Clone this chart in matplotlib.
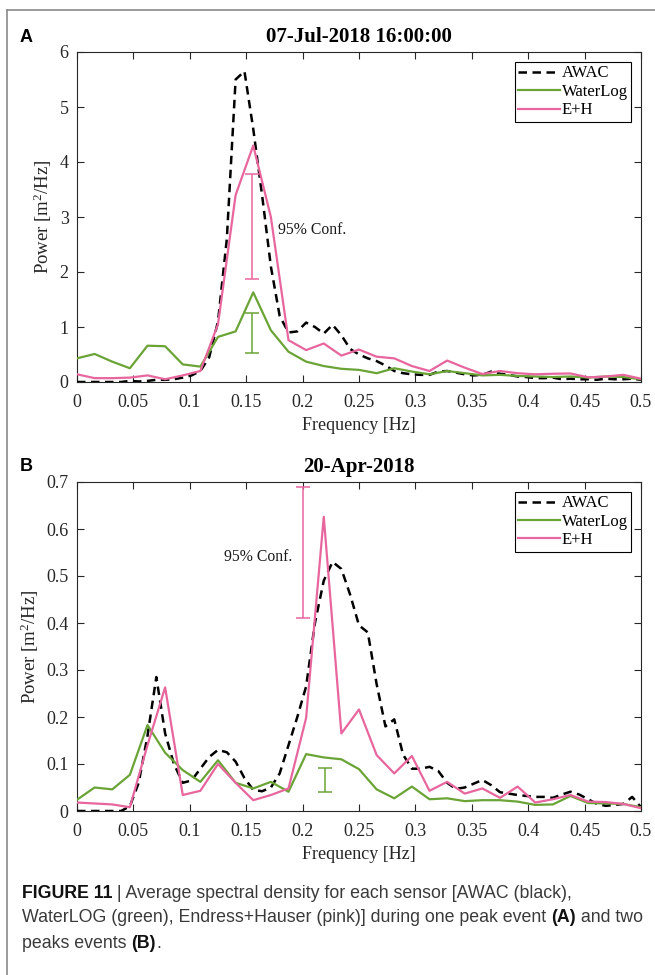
import numpy as np
import matplotlib
matplotlib.use('Agg')
import matplotlib.pyplot as plt
from matplotlib.lines import Line2D

# Spectra. E+H and WaterLog share a 1/64 Hz grid,
# the AWAC spectrum has a finer 1/128 Hz grid.
freq_bins = np.linspace(0, 0.5, 33)
freq_awac = np.linspace(0, 0.5, 65)

# Panel A: 07-Jul-2018 16:00:00 (one peak)
awac_a = [0.0, 0.0, 0.0, 0.0, 0.0, 0.0, 0.02, 0.01, 0.02, 0.04, 0.04, 0.05, 0.08, 0.12, 0.2, 0.45,
          1.1, 2.6, 5.5, 5.65, 4.6, 3.4, 2.1, 1.2, 0.9, 0.92, 1.08, 1.0, 0.88, 1.04, 0.85, 0.6,
          0.5, 0.43, 0.38, 0.3, 0.2, 0.16, 0.14, 0.13, 0.13, 0.19, 0.2, 0.17, 0.14, 0.12, 0.13, 0.19,
          0.15, 0.13, 0.1, 0.09, 0.07, 0.07, 0.08, 0.05, 0.06, 0.05, 0.05, 0.04, 0.06, 0.05, 0.05, 0.06, 0.04]
waterlog_a = [0.43, 0.51, 0.37, 0.25, 0.66, 0.65, 0.32, 0.28, 0.82, 0.92,
              1.63, 0.94, 0.55, 0.37, 0.29, 0.24, 0.22, 0.16, 0.25, 0.19,
              0.14, 0.2, 0.16, 0.12, 0.13, 0.11, 0.1, 0.09, 0.1, 0.08,
              0.1, 0.09, 0.05]
eh_a = [0.14, 0.07, 0.07, 0.08, 0.12, 0.05, 0.12, 0.2, 1.05, 3.4,
        4.3, 3.0, 0.76, 0.58, 0.7, 0.48, 0.59, 0.46, 0.43, 0.29,
        0.2, 0.39, 0.26, 0.145, 0.2, 0.16, 0.14, 0.15, 0.155, 0.085,
        0.1, 0.13, 0.06]

# Panel B: 20-Apr-2018 (two peaks)
awac_b = [0.0, 0.0, 0.0, 0.0, 0.0, 0.0, 0.01, 0.06, 0.16, 0.285, 0.165, 0.1, 0.06, 0.065, 0.09, 0.115,
          0.13, 0.125, 0.105, 0.07, 0.045, 0.042, 0.05, 0.08, 0.14, 0.2, 0.265, 0.4, 0.49, 0.53, 0.515, 0.46,
          0.395, 0.38, 0.27, 0.18, 0.195, 0.12, 0.09, 0.09, 0.094, 0.085, 0.06, 0.047, 0.05, 0.058, 0.066, 0.055,
          0.04, 0.037, 0.034, 0.032, 0.03, 0.03, 0.028, 0.035, 0.041, 0.035, 0.025, 0.015, 0.011, 0.013, 0.015, 0.03, 0.008]
waterlog_b = [0.024, 0.05, 0.046, 0.077, 0.183, 0.124, 0.087, 0.062, 0.108, 0.06,
              0.048, 0.062, 0.041, 0.121, 0.114, 0.11, 0.089, 0.046, 0.027, 0.052,
              0.025, 0.027, 0.021, 0.023, 0.023, 0.02, 0.013, 0.014, 0.032, 0.017,
              0.016, 0.015, 0.008]
eh_b = [0.018, 0.016, 0.014, 0.008, 0.14, 0.263, 0.034, 0.043, 0.1, 0.06,
        0.023, 0.034, 0.048, 0.198, 0.626, 0.165, 0.216, 0.119, 0.08, 0.117,
        0.043, 0.062, 0.037, 0.048, 0.028, 0.052, 0.018, 0.025, 0.034, 0.02,
        0.019, 0.015, 0.006]

# 95% confidence bars (E+H first, WaterLog second)
conf_freq_a = [0.155, 0.155]
conf_lo_a = [1.88, 0.53]
conf_hi_a = [3.79, 1.26]
conf_freq_b = [0.2, 0.2195]
conf_lo_b = [0.41, 0.041]
conf_hi_b = [0.689, 0.092]

titles = ['07-Jul-2018 16:00:00', '20-Apr-2018']
xticks = [0, 0.05, 0.1, 0.15, 0.2, 0.25, 0.3, 0.35, 0.4, 0.45, 0.5]
yticks_a = [0, 1, 2, 3, 4, 5, 6]
yticks_b = [0, 0.1, 0.2, 0.3, 0.4, 0.5, 0.6, 0.7]

BLACK = '#000000'
GREEN = '#6aa436'
PINK = '#e8669e'
AXCOL = '#262626'

plt.rcParams['font.family'] = ['Liberation Serif', 'DejaVu Serif']
plt.rcParams['mathtext.fontset'] = 'custom'
plt.rcParams['mathtext.rm'] = 'Liberation Serif'
plt.rcParams['mathtext.it'] = 'Liberation Serif:italic'

W, H = 655, 975
fig = plt.figure(figsize=(W / 100, H / 100), dpi=100)

ax_a = fig.add_axes([77 / W, 1 - 382 / H, 564 / W, 330 / H])
ax_b = fig.add_axes([77 / W, 1 - 811 / H, 564 / W, 329 / H])

panels = [
    (ax_a, awac_a, waterlog_a, eh_a, yticks_a, conf_freq_a, conf_lo_a, conf_hi_a),
    (ax_b, awac_b, waterlog_b, eh_b, yticks_b, conf_freq_b, conf_lo_b, conf_hi_b),
]

for i, (ax, awac, wl, eh, yt, cf, lo, hi) in enumerate(panels):
    ax.plot(freq_awac, awac, color=BLACK, lw=1.8, ls=(0, (3.4, 2.2)), label='AWAC', zorder=3)
    ax.plot(freq_bins, wl, color=GREEN, lw=1.6, label='WaterLog', zorder=4)
    ax.plot(freq_bins, eh, color=PINK, lw=1.6, label='E+H', zorder=5)

    for f, l, h, c in zip(cf, lo, hi, [PINK, GREEN]):
        mid = (l + h) / 2
        ax.errorbar([f], [mid], yerr=[[mid - l], [h - mid]], fmt='none',
                    ecolor=c, elinewidth=1.1, capsize=5, capthick=1.1, zorder=6)

    ax.set_xlim(0, 0.5)
    ax.set_ylim(yt[0], yt[-1])
    ax.set_xticks(xticks)
    ax.set_xticklabels(['%g' % v for v in xticks])
    ax.set_yticks(yt)
    ax.set_yticklabels(['%g' % v for v in yt])
    ax.tick_params(direction='in', top=True, right=True, length=5, width=0.8,
                   labelsize=13, colors=AXCOL)
    ax.tick_params(axis='x', pad=8.5)
    ax.tick_params(axis='y', pad=6)
    for s in ax.spines.values():
        s.set_color(AXCOL)
        s.set_linewidth(0.8)

    ax.set_xlabel('Frequency [Hz]', fontsize=13, color=AXCOL, labelpad=4.5)
    ax.set_ylabel('Power [m$^{2}$/Hz]', fontsize=13.5, color=AXCOL, labelpad=4)
    ax.set_title(titles[i], fontsize=15, fontweight='bold', color='black', pad=7)

    leg = ax.legend(loc='upper right', fontsize=12, frameon=True, fancybox=False,
                    framealpha=1, edgecolor='black', borderaxespad=0.6,
                    handlelength=2.5, handletextpad=0.1, labelspacing=0.15,
                    borderpad=0.2)
    leg.get_frame().set_linewidth(0.8)

ax_a.text(0.178, 2.76, '95% Conf.', fontsize=11.3, ha='left', va='center', color='#1a1a1a')
ax_b.text(0.191, 0.54, '95% Conf.', fontsize=11.3, ha='right', va='center', color='#1a1a1a')

# panel letters
fig.text(20 / W, 1 - 38 / H, 'A', family='Liberation Sans', fontweight='bold', fontsize=13,
         va='center', ha='left')
fig.text(20 / W, 1 - 467 / H, 'B', family='Liberation Sans', fontweight='bold', fontsize=13,
         va='center', ha='left')

# thin grey page frame (top and left edges)
fig.add_artist(Line2D([7 / W, 1], [1 - 10 / H, 1 - 10 / H], transform=fig.transFigure,
                      color='#8a8a8a', lw=1.2))
fig.add_artist(Line2D([7 / W, 7 / W], [0, 1 - 10 / H], transform=fig.transFigure,
                      color='#8a8a8a', lw=1.2))

# caption with mixed bold / regular runs
caption = [
    [('FIGURE 11', True), (' | Average spectral density for each sensor [AWAC (black),', False)],
    [('WaterLOG (green), Endress+Hauser (pink)] during one peak event ', False), ('(A)', True),
     (' and two', False)],
    [('peaks events ', False), ('(B)', True), ('.', False)],
]
caption_y = [893, 918, 943]

fig.canvas.draw()
renderer = fig.canvas.get_renderer()
for parts, yy in zip(caption, caption_y):
    x = 22 / W
    for txt, bold in parts:
        t = fig.text(x, 1 - yy / H, txt, family='Liberation Sans', fontsize=12.8,
                     fontweight='bold' if bold else 'normal',
                     color='#111111' if bold else '#3a3a3a', va='center', ha='left')
        bb = t.get_window_extent(renderer)
        x = bb.x1 / fig.bbox.width

fig.savefig('out.png', dpi=100)
